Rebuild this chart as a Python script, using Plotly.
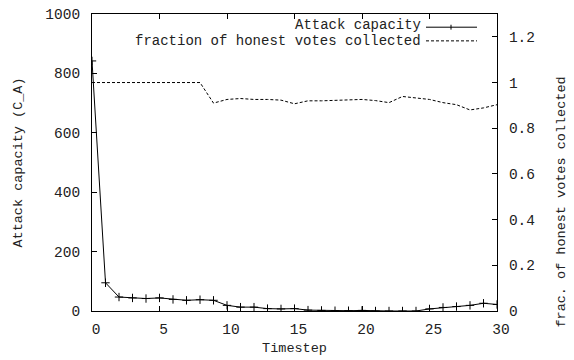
import plotly.graph_objects as go

timestep = list(range(31))
attack_capacity = [842, 95, 47, 44, 42, 44, 39, 36, 38, 36, 19, 13, 13, 8, 7, 8,
                   3, 2, 1, 1, 2, 0, 0, 0, 0, 7, 12, 15, 19, 26, 22]
honest_fraction = [1.0, 1.0, 1.0, 1.0, 1.0, 0.998, 0.998, 1.0, 1.0, 0.910, 0.926,
                   0.930, 0.926, 0.926, 0.923, 0.907, 0.920, 0.920, 0.923, 0.923,
                   0.926, 0.921, 0.912, 0.939, 0.932, 0.926, 0.912, 0.903, 0.880,
                   0.889, 0.903]
x_ticks = [0, 5, 10, 15, 20, 25, 30]
y_ticks = [0, 200, 400, 600, 800, 1000]
y2_ticks = [0, 0.2, 0.4, 0.6, 0.8, 1.0, 1.2]
y2_tick_labels = ["0", "0.2", "0.4", "0.6", "0.8", "1", "1.2"]

FONT = "Liberation Mono"
TXT = "#222222"
FS = 14.5

fig = go.Figure()
fig.add_trace(go.Scatter(
    x=timestep, y=attack_capacity, mode="lines+markers", name="Attack capacity",
    line=dict(color="black", width=1),
    marker=dict(symbol="cross-thin", size=6, line=dict(color="black", width=1)),
    showlegend=False, yaxis="y"))
fig.add_trace(go.Scatter(
    x=timestep, y=honest_fraction, mode="lines",
    name="fraction of honest votes collected",
    line=dict(color="black", width=1, dash="3px,2px"),
    showlegend=False, yaxis="y2"))

L, R, T, B = 92, 77, 7, 49
fig.update_layout(
    width=574, height=360,
    margin=dict(l=L, r=R, t=T, b=B),
    paper_bgcolor="white", plot_bgcolor="white",
    font=dict(family=FONT, size=FS, color=TXT),
    xaxis=dict(range=[0, 30], tickvals=x_ticks, ticks="inside", ticklen=5,
               tickcolor="black", showline=True, linecolor="black", linewidth=1,
               mirror="ticks", showgrid=False, zeroline=False,
               ticklabelshift=4, ticklabelstandoff=5,
               title=dict(text="Timestep", standoff=5, font=dict(size=13.5))),
    yaxis=dict(range=[0, 1000], tickvals=y_ticks, ticks="inside", ticklen=5,
               tickcolor="black", showline=True, linecolor="black", linewidth=1,
               showgrid=False, zeroline=False, ticklabelstandoff=8,
               title=dict(text="Attack capacity (C_A)", standoff=19,
                          font=dict(size=13.5))),
    yaxis2=dict(range=[0, 1.3], tickvals=y2_ticks, ticktext=y2_tick_labels,
                overlaying="y", side="right", ticks="inside", ticklen=5,
                tickcolor="black", showline=True, linecolor="black", linewidth=1,
                showgrid=False, zeroline=False, ticklabelstandoff=8),
)

pw = 574 - L - R
ph = 360 - T - B
def px(xp):
    return (xp - L) / pw
def py(yp):
    return (360 - B - yp) / ph

# right axis title (gnuplot places it somewhat low)
fig.add_annotation(xref="paper", yref="paper", x=px(562), y=py(200),
                   xanchor="center", yanchor="middle", showarrow=False,
                   textangle=-90, text="frac. of honest votes collected",
                   font=dict(size=13.5))

# gnuplot-style key: right-aligned text with line sample on its right
fig.add_annotation(xref="paper", yref="paper", x=px(423), y=py(18),
                   xanchor="right", yanchor="middle", showarrow=False,
                   text="Attack capacity", font=dict(size=14))
fig.add_annotation(xref="paper", yref="paper", x=px(423), y=py(34.5),
                   xanchor="right", yanchor="middle", showarrow=False,
                   text="fraction of honest votes collected", font=dict(size=14))
fig.add_shape(type="line", xref="paper", yref="paper", x0=px(426), x1=px(477),
              y0=py(20.5), y1=py(20.5), line=dict(color="black", width=1))
fig.add_shape(type="line", xref="paper", yref="paper", x0=px(451), x1=px(451),
              y0=py(18), y1=py(23), line=dict(color="black", width=1))
fig.add_shape(type="line", xref="paper", yref="paper", x0=px(426), x1=px(477),
              y0=py(34.5), y1=py(34.5),
              line=dict(color="black", width=1, dash="3px,2px"))

fig.write_html("out.html")
